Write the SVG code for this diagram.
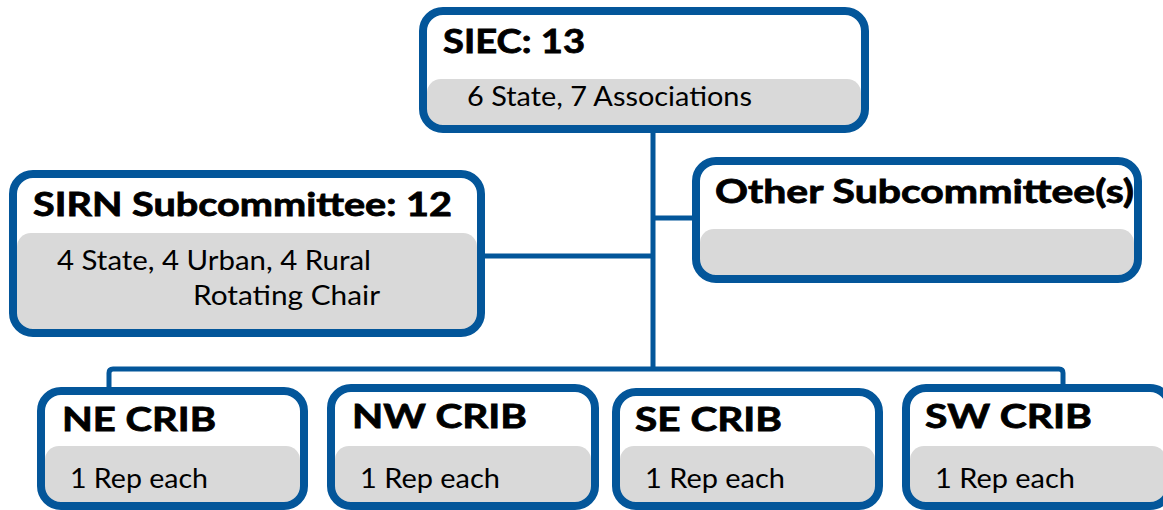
<svg xmlns="http://www.w3.org/2000/svg" width="1163" height="510" viewBox="0 0 1163 510">
<style>
.box{fill:#ffffff;}
.band{fill:#d9d9d9;}
.frame{fill:none;stroke:#03569a;stroke-width:8;}
.title{font-family:Lato,"Liberation Sans",sans-serif;font-weight:bold;font-size:33px;fill:#000;stroke:#000;stroke-width:0.8px;}
.sub{font-family:Lato,"Liberation Sans",sans-serif;font-size:27px;fill:#000;}
.conn{fill:none;stroke:#03569a;stroke-width:5;stroke-linejoin:round;}
</style>
<rect width="1163" height="510" fill="#ffffff"/>
<g id="connectors">
<path class="conn" d="M653 131 V369"/>
<path class="conn" d="M485 256 H653"/>
<path class="conn" d="M653 218 H692"/>
<path class="conn" d="M109 387 V373 Q109 369 113 369 H1059 Q1063 369 1063 373 V384"/>
</g>
<g id="siec">
<rect class="box" x="423" y="11" width="442" height="118" rx="20"/>
<rect class="band" x="427" y="79" width="434" height="46" rx="14"/>
<rect class="frame" x="423" y="11" width="442" height="118" rx="20"/>
<text class="title" x="443" y="53" textLength="142" lengthAdjust="spacingAndGlyphs">SIEC: 13</text>
<text class="sub" x="467" y="106" textLength="285" lengthAdjust="spacingAndGlyphs">6 State, 7 Associations</text>
</g>
<g id="sirn">
<rect class="box" x="13" y="174" width="468" height="159" rx="20"/>
<rect class="band" x="17" y="233" width="460" height="96" rx="14"/>
<rect class="frame" x="13" y="174" width="468" height="159" rx="20"/>
<text class="title" x="33" y="216" textLength="419" lengthAdjust="spacingAndGlyphs">SIRN Subcommittee: 12</text>
<text class="sub" x="57" y="270" textLength="314" lengthAdjust="spacingAndGlyphs">4 State, 4 Urban, 4 Rural</text>
<text class="sub" x="193" y="305" textLength="187" lengthAdjust="spacingAndGlyphs">Rotating Chair</text>
</g>
<g id="other">
<rect class="box" x="696" y="161" width="442" height="118" rx="20"/>
<rect class="band" x="700" y="229" width="434" height="46" rx="14"/>
<rect class="frame" x="696" y="161" width="442" height="118" rx="20"/>
<text class="title" x="715" y="203" textLength="419" lengthAdjust="spacingAndGlyphs">Other Subcommittee(s)</text>
</g>
<g id="ne-crib">
<rect class="box" x="41" y="391" width="263" height="115" rx="20"/>
<rect class="band" x="45" y="446" width="255" height="56" rx="14"/>
<rect class="frame" x="41" y="391" width="263" height="115" rx="20"/>
<text class="title" x="62" y="431" textLength="154" lengthAdjust="spacingAndGlyphs">NE CRIB</text>
<text class="sub" x="70" y="488" textLength="138" lengthAdjust="spacingAndGlyphs">1 Rep each</text>
</g>
<g id="nw-crib">
<rect class="box" x="331" y="388" width="264" height="118" rx="20"/>
<rect class="band" x="335" y="446" width="256" height="56" rx="14"/>
<rect class="frame" x="331" y="388" width="264" height="118" rx="20"/>
<text class="title" x="352" y="428" textLength="175" lengthAdjust="spacingAndGlyphs">NW CRIB</text>
<text class="sub" x="360" y="488" textLength="140" lengthAdjust="spacingAndGlyphs">1 Rep each</text>
</g>
<g id="se-crib">
<rect class="box" x="616" y="392" width="263" height="114" rx="20"/>
<rect class="band" x="620" y="446" width="255" height="56" rx="14"/>
<rect class="frame" x="616" y="392" width="263" height="114" rx="20"/>
<text class="title" x="635" y="431" textLength="147" lengthAdjust="spacingAndGlyphs">SE CRIB</text>
<text class="sub" x="645" y="488" textLength="140" lengthAdjust="spacingAndGlyphs">1 Rep each</text>
</g>
<g id="sw-crib">
<rect class="box" x="906" y="388" width="264" height="118" rx="20"/>
<rect class="band" x="910" y="446" width="256" height="56" rx="14"/>
<rect class="frame" x="906" y="388" width="264" height="118" rx="20"/>
<text class="title" x="925" y="428" textLength="167" lengthAdjust="spacingAndGlyphs">SW CRIB</text>
<text class="sub" x="935" y="488" textLength="140" lengthAdjust="spacingAndGlyphs">1 Rep each</text>
</g>
</svg>
